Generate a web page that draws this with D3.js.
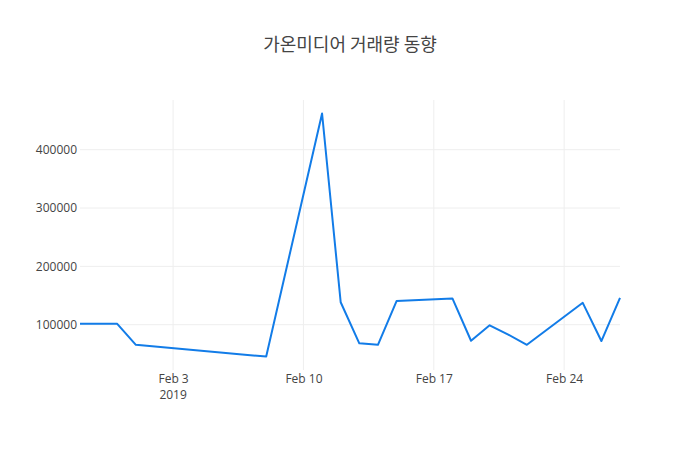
<!DOCTYPE html>
<html>
<head>
<meta charset="utf-8">
<script src="https://cdn.jsdelivr.net/npm/d3@7"></script>
<style>
  body { margin: 0; background: #fff; }
  svg text { font-family: "Open Sans", "Noto Sans", sans-serif; }
</style>
</head>
<body>
<svg id="chart" width="700" height="450"></svg>
<script>
// 거래일 (2019)
const dates = [
  "2019-01-29", "2019-01-30", "2019-01-31", "2019-02-01", "2019-02-07",
  "2019-02-08", "2019-02-11", "2019-02-12", "2019-02-13", "2019-02-14",
  "2019-02-15", "2019-02-18", "2019-02-19", "2019-02-20", "2019-02-21",
  "2019-02-22", "2019-02-25", "2019-02-26", "2019-02-27"
];
// 거래량
const volumes = [
  101500, 101500, 101500, 65500, 48000,
  45500, 462000, 138500, 68000, 65500,
  140500, 145000, 72500, 99000, 83000,
  65500, 137500, 72000, 146000
];
const yTicks = [100000, 200000, 300000, 400000];
const xTicks = ["2019-02-03", "2019-02-10", "2019-02-17", "2019-02-24"];
const titleText = "가온미디어 거래량 동향";

const W = 700, H = 450;
const margin = { top: 100, right: 80, bottom: 80, left: 80 };
const svg = d3.select("#chart");
const parse = d3.timeParse("%Y-%m-%d");

const data = dates.map((d, i) => ({ date: parse(d), value: volumes[i] }));

const x = d3.scaleTime()
  .domain(d3.extent(data, (d) => d.date))
  .range([margin.left, W - margin.right]);

const yMin = d3.min(volumes), yMax = d3.max(volumes);
const pad = (yMax - yMin) * 0.0556;
const y = d3.scaleLinear()
  .domain([yMin - pad, yMax + pad])
  .range([H - margin.bottom, margin.top]);

// grid
const grid = svg.append("g").attr("id", "grid-layer");
grid.selectAll("line.ygrid")
  .data(yTicks)
  .join("line")
  .attr("class", "ygrid")
  .attr("x1", margin.left)
  .attr("x2", W - margin.right)
  .attr("y1", (d) => y(d))
  .attr("y2", (d) => y(d))
  .attr("stroke", "#eee")
  .attr("stroke-width", 1);

grid.selectAll("line.xgrid")
  .data(xTicks.map(parse))
  .join("line")
  .attr("class", "xgrid")
  .attr("x1", (d) => x(d))
  .attr("x2", (d) => x(d))
  .attr("y1", margin.top)
  .attr("y2", H - margin.bottom)
  .attr("stroke", "#eee")
  .attr("stroke-width", 1);

// y axis
const yAxis = d3.axisLeft(y)
  .tickValues(yTicks)
  .tickSize(0)
  .tickPadding(2)
  .tickFormat(d3.format("d"));
const yAxisG = svg.append("g")
  .attr("transform", `translate(${margin.left - 1},0)`)
  .call(yAxis);
yAxisG.select(".domain").remove();
yAxisG.selectAll("text")
  .attr("fill", "#444")
  .style("font-size", "12px");

// x axis
const xAxis = d3.axisBottom(x)
  .tickValues(xTicks.map(parse))
  .tickSize(0)
  .tickPadding(4)
  .tickFormat(d3.timeFormat("%b %-d"));
const xAxisG = svg.append("g")
  .attr("transform", `translate(0,${H - margin.bottom})`)
  .call(xAxis);
xAxisG.select(".domain").remove();
xAxisG.selectAll("text")
  .attr("fill", "#444")
  .style("font-size", "12px");
// year under first tick
xAxisG.append("text")
  .attr("x", x(parse(xTicks[0])))
  .attr("y", 29)
  .attr("text-anchor", "middle")
  .attr("fill", "#444")
  .style("font-size", "12px")
  .text("2019");

// line
const line = d3.line()
  .x((d) => x(d.date))
  .y((d) => y(d.value));

svg.append("path")
  .datum(data)
  .attr("fill", "none")
  .attr("stroke", "rgb(18,124,232)")
  .attr("stroke-width", 2)
  .attr("stroke-linejoin", "round")
  .attr("d", line);

// title
svg.append("text")
  .attr("x", W / 2)
  .attr("y", 51)
  .attr("text-anchor", "middle")
  .attr("fill", "#444")
  .style("font-family", "'Noto Sans CJK KR', 'Noto Sans', sans-serif")
  .style("font-size", "18px")
  .text(titleText);
</script>
</body>
</html>
